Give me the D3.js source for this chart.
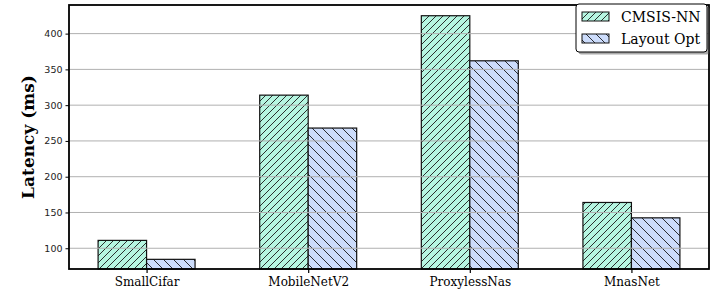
<!DOCTYPE html>
<html>
<head>
<meta charset="utf-8">
<script src="https://cdn.jsdelivr.net/npm/d3@7"></script>
<style>
  body { margin: 0; background: #fff; }
  svg { display: block; }
</style>
</head>
<body>
<div id="chart"></div>
<script>
const models = ['SmallCifar', 'MobileNetV2', 'ProxylessNas', 'MnasNet'];
const cmsisNN = [111, 314, 425, 164];
const layoutOpt = [84.5, 268, 362, 142.5];
const yTicks = [100, 150, 200, 250, 300, 350, 400];
const seriesNames = ['CMSIS-NN', 'Layout Opt'];

const width = 727;
const height = 297;
const margin = { top: 5, right: 18, bottom: 28, left: 69 };
const plotW = width - margin.left - margin.right;
const plotH = height - margin.top - margin.bottom;

const svg = d3.select('#chart')
    .append('svg')
    .attr('width', width)
    .attr('height', height);

// hatch patterns
const defs = svg.append('defs');
function hatch(id, fill, step, forward) {
    const p = defs.append('pattern')
        .attr('id', id)
        .attr('patternUnits', 'userSpaceOnUse')
        .attr('width', step)
        .attr('height', step);
    p.append('rect').attr('width', step).attr('height', step).attr('fill', fill);
    const d = forward
        ? `M0,${step} L${step},0 M${-step / 2},${step / 2} L${step / 2},${-step / 2} M${step / 2},${step * 1.5} L${step * 1.5},${step / 2}`
        : `M0,0 L${step},${step} M${-step / 2},${step / 2} L${step / 2},${step * 1.5} M${step / 2},${-step / 2} L${step * 1.5},${step / 2}`;
    p.append('path').attr('d', d).attr('stroke', '#1a1a1a').attr('stroke-width', 0.9);
}
hatch('hatchA', '#b6f6e1', 7, true);
hatch('hatchB', '#ccdcfb', 10, false);
const fills = ['url(#hatchA)', 'url(#hatchB)'];

const x = d3.scalePoint()
    .domain(models)
    .range([0, plotW])
    .padding(0.48);
const step = x.step();
const barW = step * 0.3;

const y = d3.scaleLinear()
    .domain([71, 440])
    .range([plotH, 0]);

const g = svg.append('g')
    .attr('transform', `translate(${margin.left},${margin.top})`);

const series = [cmsisNN, layoutOpt];
series.forEach((vals, si) => {
    g.selectAll('.bar' + si)
        .data(models)
        .enter()
        .append('rect')
        .attr('class', 'bar' + si)
        .attr('x', d => x(d) - barW + si * barW)
        .attr('y', (d, i) => y(vals[i]))
        .attr('width', barW)
        .attr('height', (d, i) => plotH - y(vals[i]))
        .attr('fill', fills[si])
        .attr('stroke', '#111')
        .attr('stroke-width', 1.2);
});

// grid on top of bars
g.selectAll('.grid')
    .data(yTicks)
    .enter()
    .append('line')
    .attr('x1', 0)
    .attr('x2', plotW)
    .attr('y1', d => y(d))
    .attr('y2', d => y(d))
    .attr('stroke', '#b0b0b0')
    .attr('stroke-width', 1);

const yAxis = g.append('g')
    .call(d3.axisLeft(y).tickValues(yTicks).tickSize(3.5).tickPadding(3));
yAxis.select('.domain').remove();
yAxis.selectAll('text')
    .attr('font-family', 'DejaVu Sans')
    .attr('font-size', 9.5)
    .attr('fill', '#222');
yAxis.selectAll('line').attr('stroke', '#000').attr('stroke-width', 1);

const xAxis = g.append('g')
    .attr('transform', `translate(0,${plotH})`)
    .call(d3.axisBottom(x).tickSize(4).tickPadding(4));
xAxis.select('.domain').remove();
xAxis.selectAll('text')
    .attr('font-family', 'DejaVu Serif')
    .attr('font-size', 12)
    .attr('fill', '#000');
xAxis.selectAll('line').attr('stroke', '#000').attr('stroke-width', 1.2);

// frame
g.append('rect')
    .attr('width', plotW)
    .attr('height', plotH)
    .attr('fill', 'none')
    .attr('stroke', '#000')
    .attr('stroke-width', 1.8);

svg.append('text')
    .attr('transform', `translate(34,${margin.top + plotH / 2}) rotate(-90)`)
    .attr('text-anchor', 'middle')
    .attr('font-family', 'DejaVu Serif')
    .attr('font-weight', 'bold')
    .attr('font-size', 17)
    .text('Latency (ms)');

// legend
const lg = svg.append('g').attr('transform', 'translate(576,4)');
lg.append('rect')
    .attr('x', 2.5).attr('y', 2.5)
    .attr('width', 131).attr('height', 48)
    .attr('rx', 3)
    .attr('fill', '#555').attr('opacity', 0.5);
lg.append('rect')
    .attr('width', 131).attr('height', 48)
    .attr('rx', 3)
    .attr('fill', '#fff')
    .attr('stroke', '#000')
    .attr('stroke-width', 1);
seriesNames.forEach((name, i) => {
    lg.append('rect')
        .attr('x', 6).attr('y', 8 + i * 22)
        .attr('width', 27).attr('height', 9)
        .attr('fill', fills[i])
        .attr('stroke', '#111')
        .attr('stroke-width', 1);
    lg.append('text')
        .attr('x', 45).attr('y', 17.5 + i * 22)
        .attr('font-family', 'DejaVu Serif')
        .attr('font-size', 14)
        .text(name);
});
</script>
</body>
</html>
